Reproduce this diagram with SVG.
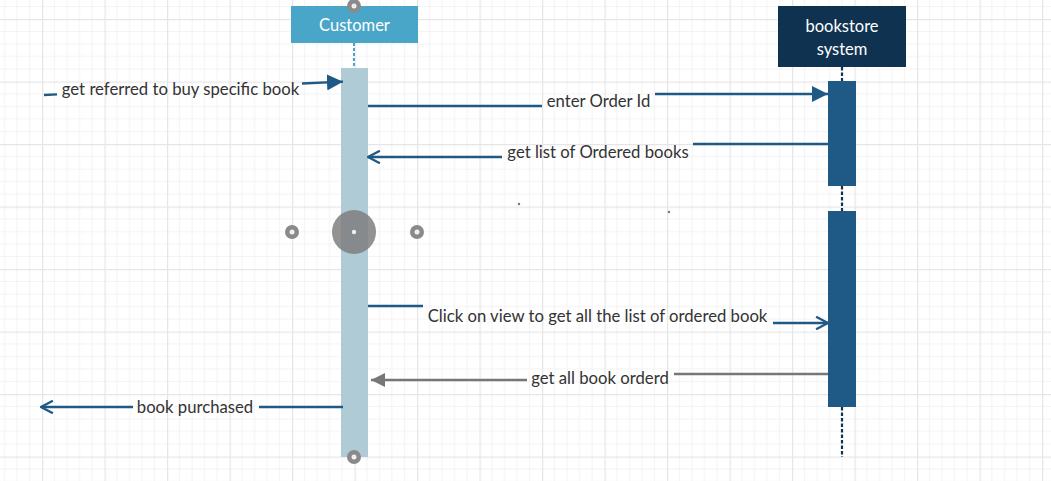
<svg xmlns="http://www.w3.org/2000/svg" width="1051" height="481" viewBox="0 0 1051 481">
<defs>
<pattern id="grid" x="42" y="19" width="62.5" height="62.5" patternUnits="userSpaceOnUse">
<path d="M12.5 0V62.5M25 0V62.5M37.5 0V62.5M50 0V62.5M0 12.5H62.5M0 25H62.5M0 37.5H62.5M0 50H62.5" stroke="#f3f3f3" stroke-width="1" fill="none"/>
<path d="M0.5 0V62.5M0 0.5H62.5" stroke="#e6e6e6" stroke-width="1.5" fill="none"/>
</pattern>
<marker id="tri" viewBox="0 0 10 10" refX="10" refY="5" markerWidth="16" markerHeight="16" markerUnits="userSpaceOnUse" orient="auto">
<path d="M0 0L10 5L0 10Z" fill="#1f5a87"/>
</marker>
<marker id="trig" viewBox="0 0 10 10" refX="10" refY="5" markerWidth="14" markerHeight="14" markerUnits="userSpaceOnUse" orient="auto">
<path d="M0 0L10 5L0 10Z" fill="#777777"/>
</marker>
<marker id="open" viewBox="0 0 10 10" refX="9.5" refY="5" markerWidth="14" markerHeight="14" markerUnits="userSpaceOnUse" orient="auto">
<path d="M1 0.5L9.5 5L1 9.5" fill="none" stroke="#1f5a87" stroke-width="1.6"/>
</marker>
</defs>
<style>
.lbl{font-family:Lato,"Liberation Sans",sans-serif;font-size:16.7px;fill:#333333;dominant-baseline:central}
.hdr{font-family:Lato,"Liberation Sans",sans-serif;font-size:16.5px;fill:#ffffff;dominant-baseline:central}
.msg{fill:none;stroke:#1f5a87;stroke-width:2.3}
.msgg{fill:none;stroke:#777777;stroke-width:2.3}
.ring{fill:#8a8a8a}
.dot{fill:#f0f0f0}
.life{stroke:#0f3250;stroke-width:2.2;stroke-dasharray:3.5,2}
</style>
<rect width="1051" height="481" fill="#ffffff"/>
<rect width="1051" height="481" fill="url(#grid)"/>

<g id="customer">
<line x1="354" y1="43" x2="354" y2="68" stroke="#4aa6c8" stroke-width="2" stroke-dasharray="3,2"/>
<rect x="291" y="6" width="127" height="37" fill="#4aa6c8"/>
<text class="hdr" x="354.5" y="25" text-anchor="middle">Customer</text>
<rect x="341" y="68" width="27" height="389" fill="#aecbd6"/>
<circle class="ring" cx="354" cy="6" r="7"/>
<circle class="dot" cx="354" cy="6" r="2.5"/>
<circle class="ring" cx="354" cy="457" r="7"/>
<circle class="dot" cx="354" cy="457" r="2.5"/>
</g>

<g id="bookstore">
<line class="life" x1="842" y1="67" x2="842" y2="81"/>
<line class="life" x1="842" y1="186" x2="842" y2="211"/>
<line class="life" x1="842" y1="407" x2="842" y2="457"/>
<rect x="778" y="6" width="128" height="61" fill="#0f3250"/>
<text class="hdr" x="842" y="26" text-anchor="middle">bookstore</text>
<text class="hdr" x="842" y="49" text-anchor="middle">system</text>
<rect x="828" y="81" width="28" height="105" fill="#1f5a87"/>
<rect x="828" y="211" width="28" height="196" fill="#1f5a87"/>
</g>

<g id="connectors">
<path class="msg" d="M44 95L57 94.4"/>
<path class="msg" d="M302 83.5L343 81.7" marker-end="url(#tri)"/>
<text class="lbl" x="180.5" y="89" text-anchor="middle">get referred to buy specific book</text>

<path class="msg" d="M368 106H542"/>
<path class="msg" d="M655 94H828" marker-end="url(#tri)"/>
<text class="lbl" x="598.5" y="101" text-anchor="middle">enter Order Id</text>

<path class="msg" d="M828 144H693"/>
<path class="msg" d="M502 157H368" marker-end="url(#open)"/>
<text class="lbl" x="598" y="152" text-anchor="middle">get list of Ordered books</text>

<path class="msg" d="M368 306H423"/>
<path class="msg" d="M773 323H828" marker-end="url(#open)"/>
<text class="lbl" x="597.5" y="316" text-anchor="middle">Click on view to get all the list of ordered book</text>

<path class="msgg" d="M828 374H674"/>
<path class="msgg" d="M527 380H371" marker-end="url(#trig)"/>
<text class="lbl" x="600" y="378" text-anchor="middle">get all book orderd</text>

<path class="msg" d="M343 407H259"/>
<path class="msg" d="M133 407H41" marker-end="url(#open)"/>
<text class="lbl" x="195" y="407" text-anchor="middle">book purchased</text>
</g>

<g id="handles">
<circle cx="354" cy="232" r="22" fill="#7f7f7f" fill-opacity="0.85"/>
<circle class="dot" cx="354" cy="232" r="2.2"/>
<circle class="ring" cx="292" cy="232" r="7"/>
<circle class="dot" cx="292" cy="232" r="2.5"/>
<circle class="ring" cx="417" cy="232" r="7"/>
<circle class="dot" cx="417" cy="232" r="2.5"/>
<circle cx="519" cy="204" r="1.2" fill="#777777"/>
<circle cx="669" cy="212" r="1.2" fill="#777777"/>
</g>
</svg>
